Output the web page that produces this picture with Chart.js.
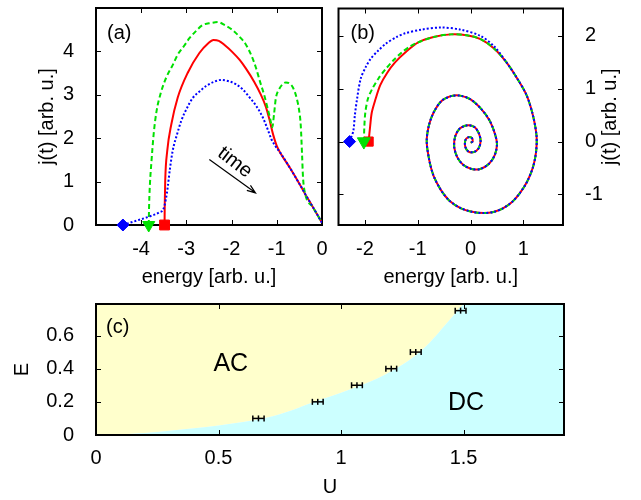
<!DOCTYPE html>
<html lang="en">

<head>
    <meta charset="UTF-8">
    <title>j(t) vs energy and AC/DC phase diagram</title>
    <script src="https://cdn.jsdelivr.net/npm/chart.js"></script>
    <style>
        body {
            margin: 0;
            background: #fff;
        }

        canvas {
            position: absolute;
        }
    </style>
</head>

<body>
    <canvas id="chartA" width="330" height="290" style="left:0;top:0"></canvas>
    <canvas id="chartB" width="311" height="290" style="left:330px;top:0"></canvas>
    <canvas id="chartC" width="641" height="210" style="left:0;top:290px"></canvas>

    <script>
        // ---- panel (a): current vs energy, [energy, j] pairs ----
        const redA = [[-3.48, 0], [-3.475, 0.5], [-3.465, 1.03], [-3.42, 1.71], [-3.33, 2.32], [-3.19, 2.93],
            [-2.97, 3.5], [-2.71, 3.96], [-2.52, 4.18], [-2.4, 4.26], [-2.28, 4.24], [-2.14, 4.13],
            [-1.98, 3.98], [-1.82, 3.8], [-1.68, 3.6], [-1.5, 3.3], [-1.36, 3.02], [-1.24, 2.72], [-1.16, 2.42],
            [-1.08, 2.08], [-1.0, 1.82], [-0.92, 1.66], [-0.7, 1.3], [-0.5, 0.95], [-0.37, 0.71], [-0.2, 0.41], [0, 0.05]];
        const greenA = [[-3.83, 0], [-3.82, 0.5], [-3.8, 1.0], [-3.77, 1.45], [-3.72, 2.1], [-3.66, 2.6], [-3.56, 3.05],
            [-3.44, 3.4], [-3.3, 3.68], [-3.19, 3.92], [-3.05, 4.12], [-2.93, 4.3], [-2.78, 4.47], [-2.64, 4.6],
            [-2.45, 4.65], [-2.3, 4.67], [-2.15, 4.6], [-1.98, 4.49], [-1.82, 4.33], [-1.68, 4.15], [-1.56, 3.9],
            [-1.46, 3.62], [-1.37, 3.3], [-1.28, 3.0], [-1.2, 2.68], [-1.14, 2.42], [-1.1, 2.25], [-1.06, 2.55],
            [-1.02, 2.92], [-0.95, 3.12], [-0.87, 3.24], [-0.8, 3.28], [-0.72, 3.26], [-0.64, 3.16], [-0.56, 2.92],
            [-0.5, 2.6], [-0.47, 2.3], [-0.44, 1.6], [-0.42, 1.1], [-0.37, 0.71], [-0.2, 0.41], [0, 0.05]];
        const blueA = [[-4.4, 0], [-4.1, 0.1], [-3.8, 0.2], [-3.6, 0.29], [-3.5, 0.38], [-3.45, 0.6], [-3.41, 0.87],
            [-3.36, 1.3], [-3.3, 1.71], [-3.2, 2.1], [-3.11, 2.4], [-2.98, 2.7], [-2.86, 2.92], [-2.7, 3.08],
            [-2.56, 3.2], [-2.4, 3.29], [-2.23, 3.34], [-2.06, 3.31], [-1.9, 3.24], [-1.75, 3.12], [-1.61, 2.95],
            [-1.46, 2.75], [-1.31, 2.48], [-1.2, 2.2], [-1.12, 1.98], [-1.02, 1.8], [-0.92, 1.66], [-0.7, 1.3],
            [-0.5, 0.95], [-0.37, 0.71], [-0.2, 0.41], [0, 0.05]];
        // start energies: blue diamond, green triangle, red square
        const startA = [-4.4, -3.83, -3.48];

        // ---- panel (b): spiral ----
        const redStartB = [[-1.93, 0], [-1.9, 0.3], [-1.87, 0.55], [-1.8, 0.8], [-1.71, 1.07], [-1.58, 1.3],
            [-1.43, 1.5], [-1.2, 1.72], [-0.99, 1.88]];
        const greenStartB = [[-2.02, 0], [-2.01, 0.3], [-1.99, 0.57], [-1.94, 0.82], [-1.86, 1.0], [-1.74, 1.2],
            [-1.61, 1.37], [-1.45, 1.55], [-1.3, 1.69], [-1.15, 1.8], [-0.99, 1.88]];
        const midB = [[-0.7, 1.98], [-0.37, 2.03], [-0.05, 2.01], [0.19, 1.94], [0.45, 1.76]];
        const blueStartB = [[-2.29, 0], [-2.22, 0.2], [-2.19, 0.5], [-2.15, 0.8], [-2.08, 1.19], [-1.98, 1.42],
            [-1.89, 1.57], [-1.75, 1.72], [-1.61, 1.85], [-1.4, 1.98], [-1.24, 2.05], [-0.93, 2.12], [-0.56, 2.16],
            [-0.19, 2.12], [0.19, 2.0], [0.45, 1.8]];
        const tailB = [[0.68, 1.5], [0.88, 1.2], [1.06, 0.88], [1.18, 0.5], [1.25, 0.1], [1.24, -0.2], [1.18, -0.49],
            [1.07, -0.76], [0.93, -0.98], [0.78, -1.15], [0.62, -1.26], [0.45, -1.33], [0.25, -1.355], [0.03, -1.33],
            [-0.19, -1.26], [-0.4, -1.12], [-0.56, -0.92], [-0.7, -0.65], [-0.78, -0.36], [-0.83, 0], [-0.79, 0.3],
            [-0.7, 0.55], [-0.55, 0.77], [-0.37, 0.86], [-0.2, 0.87], [0, 0.8], [0.2, 0.62], [0.36, 0.4], [0.46, 0.15],
            [0.5, -0.05], [0.46, -0.25], [0.35, -0.42], [0.18, -0.52], [0.02, -0.52], [-0.14, -0.44], [-0.25, -0.3],
            [-0.31, -0.1], [-0.29, 0.1], [-0.2, 0.25], [-0.05, 0.31], [0.08, 0.27], [0.16, 0.15], [0.19, 0],
            [0.15, -0.13], [0.06, -0.2], [-0.04, -0.19], [-0.1, -0.1], [-0.1, 0.02], [-0.05, 0.08], [0.02, 0.07],
            [0.04, 0], [0, -0.02]];
        const startB = [-2.29, -2.02, -1.93];

        // ---- panel (c): phase diagram ----
        const boundaryU = [0, 0.1, 0.2, 0.3, 0.4, 0.5, 0.6, 0.7, 0.8, 0.9, 1.0, 1.1, 1.2, 1.3, 1.35, 1.4, 1.45, 1.51, 1.91];
        const boundaryE = [0, 0.003, 0.012, 0.025, 0.04, 0.058, 0.078, 0.105, 0.15, 0.205, 0.255, 0.31, 0.38, 0.475, 0.54, 0.62, 0.705, 0.79, 0.79];
        const errU = [0.663, 0.905, 1.065, 1.205, 1.305, 1.488];
        const errE = [0.1, 0.2, 0.3, 0.4, 0.5, 0.75];
        const errDU = [0.023, 0.022, 0.022, 0.022, 0.022, 0.022];

        const RED = '#ff0000', GREEN = '#00e000', BLUE = '#0000ff';
        const FONT = '"Liberation Sans", Arial, sans-serif';

        Chart.defaults.font.family = FONT;
        Chart.defaults.font.size = 20;
        Chart.defaults.color = '#000';
        Chart.defaults.animation = false;

        function xy(list) {
            return list.map(p => ({ x: p[0], y: p[1] }));
        }

        function curve(list, color, dash, order, mono) {
            const ds = {
                data: xy(list), borderColor: color, borderWidth: 2, borderDash: dash,
                pointRadius: 0, tension: 0.3, fill: false, order: order
            };
            if (mono) ds.cubicInterpolationMode = 'monotone';
            return ds;
        }

        function marker(x, color, style, radius, rotation, order) {
            return {
                data: [{ x: x, y: 0 }], showLine: false, pointStyle: style, pointRadius: radius,
                rotation: rotation, pointBackgroundColor: color, pointBorderColor: color,
                pointBorderWidth: 1, clip: false, order: order
            };
        }

        function axis(pos, min, max, step, size, pad) {
            return {
                type: 'linear', position: pos, min: min, max: max,
                grid: { display: false }, border: { display: false },
                ticks: {
                    stepSize: step, includeBounds: false, padding: pad, maxRotation: 0, autoSkip: false,
                    callback: v => String(+v.toFixed(2))
                },
                afterFit: function (s) {
                    if (s.isHorizontal()) s.height = size; else s.width = size;
                    s.paddingLeft = s.paddingRight = s.paddingTop = s.paddingBottom = 0;
                }
            };
        }

        function text(ctx, str, x, y, size, align, rot) {
            ctx.save();
            ctx.translate(x, y);
            if (rot) ctx.rotate(rot * Math.PI / 180);
            ctx.font = size + 'px ' + FONT;
            ctx.fillStyle = '#000';
            ctx.textAlign = align || 'center';
            ctx.textBaseline = 'middle';
            ctx.fillText(str, 0, 0);
            ctx.restore();
        }

        // box with inward ticks on all sides
        const frame = {
            id: 'frame',
            beforeDatasetsDraw(chart) {
                const ctx = chart.ctx, a = chart.chartArea, sx = chart.scales.x, sy = chart.scales.y;
                ctx.save();
                ctx.strokeStyle = '#000';
                ctx.lineWidth = 1;
                ctx.beginPath();
                sx.ticks.forEach(t => {
                    const p = Math.round(sx.getPixelForValue(t.value)) + 0.5;
                    ctx.moveTo(p, a.bottom); ctx.lineTo(p, a.bottom - 5);
                    ctx.moveTo(p, a.top); ctx.lineTo(p, a.top + 5);
                });
                sy.ticks.forEach(t => {
                    const p = Math.round(sy.getPixelForValue(t.value)) + 0.5;
                    ctx.moveTo(a.left, p); ctx.lineTo(a.left + 5, p);
                    ctx.moveTo(a.right, p); ctx.lineTo(a.right - 5, p);
                });
                ctx.stroke();
                ctx.lineWidth = 2;
                ctx.strokeRect(a.left, a.top, a.right - a.left, a.bottom - a.top);
                ctx.restore();
            }
        };

        const baseOptions = {
            responsive: false,
            devicePixelRatio: 1,
            plugins: { legend: { display: false }, tooltip: { enabled: false } }
        };

        // panel (a)
        new Chart(document.getElementById('chartA'), {
            type: 'line',
            data: {
                datasets: [
                    curve(redA, RED, [], 6, true), curve(greenA, GREEN, [5, 3], 5, true), curve(blueA, BLUE, [2, 2], 4, true),
                    marker(startA[2], RED, 'rect', 7, 0, 3),
                    marker(startA[1], GREEN, 'triangle', 7, 180, 2),
                    marker(startA[0], BLUE, 'rectRot', 6, 0, 1)
                ]
            },
            options: Object.assign({}, baseOptions, {
                layout: { padding: { left: 0, top: 6, right: 7, bottom: 0 } },
                scales: { x: axis('bottom', -4.995, 0, 1, 65, 4), y: axis('left', 0, 4.995, 1, 96, 14) }
            }),
            plugins: [frame, {
                id: 'labelsA',
                afterDraw(chart) {
                    const ctx = chart.ctx, a = chart.chartArea, sx = chart.scales.x, sy = chart.scales.y;
                    text(ctx, '(a)', a.left + 11, a.top + 25, 20, 'left');
                    text(ctx, 'energy [arb. u.]', (a.left + a.right) / 2, a.bottom + 52, 20);
                    text(ctx, 'j(t) [arb. u.]', a.left - 49, (a.top + a.bottom) / 2, 20, 'center', -90);
                    // "time" arrow
                    const x1 = sx.getPixelForValue(-2.49), y1 = sy.getPixelForValue(1.51);
                    const x2 = sx.getPixelForValue(-1.47), y2 = sy.getPixelForValue(0.74);
                    const ang = Math.atan2(y2 - y1, x2 - x1), h = 9;
                    ctx.save();
                    ctx.strokeStyle = '#000';
                    ctx.lineWidth = 1.2;
                    ctx.beginPath();
                    ctx.moveTo(x1, y1); ctx.lineTo(x2, y2);
                    ctx.moveTo(x2 - h * Math.cos(ang - 0.35), y2 - h * Math.sin(ang - 0.35));
                    ctx.lineTo(x2, y2);
                    ctx.lineTo(x2 - h * Math.cos(ang + 0.35), y2 - h * Math.sin(ang + 0.35));
                    ctx.stroke();
                    ctx.restore();
                    text(ctx, 'time', sx.getPixelForValue(-1.93), sy.getPixelForValue(1.44), 20, 'center', 38);
                }
            }]
        });

        // panel (b)
        new Chart(document.getElementById('chartB'), {
            type: 'line',
            data: {
                datasets: [
                    curve(redStartB.concat(midB, tailB), RED, [], 6),
                    curve(greenStartB.concat(midB, tailB), GREEN, [5, 3], 5),
                    curve(blueStartB.concat(tailB), BLUE, [2, 2], 4),
                    marker(startB[2], RED, 'rect', 6.5, 0, 3),
                    marker(startB[1], GREEN, 'triangle', 7.5, 180, 2),
                    marker(startB[0], BLUE, 'rectRot', 6, 0, 1)
                ]
            },
            options: Object.assign({}, baseOptions, {
                layout: { padding: { left: 6, top: 6, right: 0, bottom: 0 } },
                scales: { x: axis('bottom', -2.5, 1.75, 1, 65, 4), y: axis('right', -1.58, 2.52, 1, 78, 14) }
            }),
            plugins: [frame, {
                id: 'labelsB',
                afterDraw(chart) {
                    const ctx = chart.ctx, a = chart.chartArea;
                    text(ctx, '(b)', a.left + 12, a.top + 25, 20, 'left');
                    text(ctx, 'energy [arb. u.]', (a.left + a.right) / 2, a.bottom + 52, 20);
                    text(ctx, 'j(t) [arb. u.]', a.right + 47, (a.top + a.bottom) / 2, 20, 'center', -90);
                }
            }]
        });

        // panel (c)
        const boundary = boundaryU.map((u, i) => ({ x: u, y: boundaryE[i] }));
        const errorBars = errU.map((u, i) => ({
            data: [{ x: u - errDU[i], y: errE[i] }, { x: u, y: errE[i] }, { x: u + errDU[i], y: errE[i] }],
            borderColor: '#000', borderWidth: 1.5, pointStyle: 'line', rotation: 90, pointRadius: 3,
            pointBorderColor: '#000', pointBorderWidth: 1.5, fill: false, order: 0
        }));

        new Chart(document.getElementById('chartC'), {
            type: 'line',
            data: {
                datasets: [
                    { data: boundary, borderWidth: 0, borderColor: 'rgba(0,0,0,0)', pointRadius: 0, cubicInterpolationMode: 'monotone', fill: 'start', backgroundColor: '#ccffff', order: 10 },
                    { data: boundary, borderWidth: 0, borderColor: 'rgba(0,0,0,0)', pointRadius: 0, cubicInterpolationMode: 'monotone', fill: 'end', backgroundColor: '#ffffcc', order: 11 }
                ].concat(errorBars)
            },
            options: Object.assign({}, baseOptions, {
                layout: { padding: { left: 0, top: 14, right: 77, bottom: 0 } },
                plugins: { legend: { display: false }, tooltip: { enabled: false }, filler: { drawTime: 'beforeDatasetsDraw' } },
                scales: { x: axis('bottom', 0, 1.91, 0.5, 65, 3), y: axis('left', 0, 0.79, 0.2, 96, 14) }
            }),
            plugins: [frame, {
                id: 'labelsC',
                afterDraw(chart) {
                    const ctx = chart.ctx, a = chart.chartArea, sx = chart.scales.x, sy = chart.scales.y;
                    text(ctx, '(c)', a.left + 10, a.top + 23, 20, 'left');
                    text(ctx, 'AC', sx.getPixelForValue(0.55), sy.getPixelForValue(0.43), 25);
                    text(ctx, 'DC', sx.getPixelForValue(1.51), sy.getPixelForValue(0.19), 25);
                    text(ctx, 'U', (a.left + a.right) / 2, a.bottom + 52, 20);
                    text(ctx, 'E', a.left - 74, (a.top + a.bottom) / 2, 20, 'center', -90);
                }
            }]
        });
    </script>
</body>

</html>
